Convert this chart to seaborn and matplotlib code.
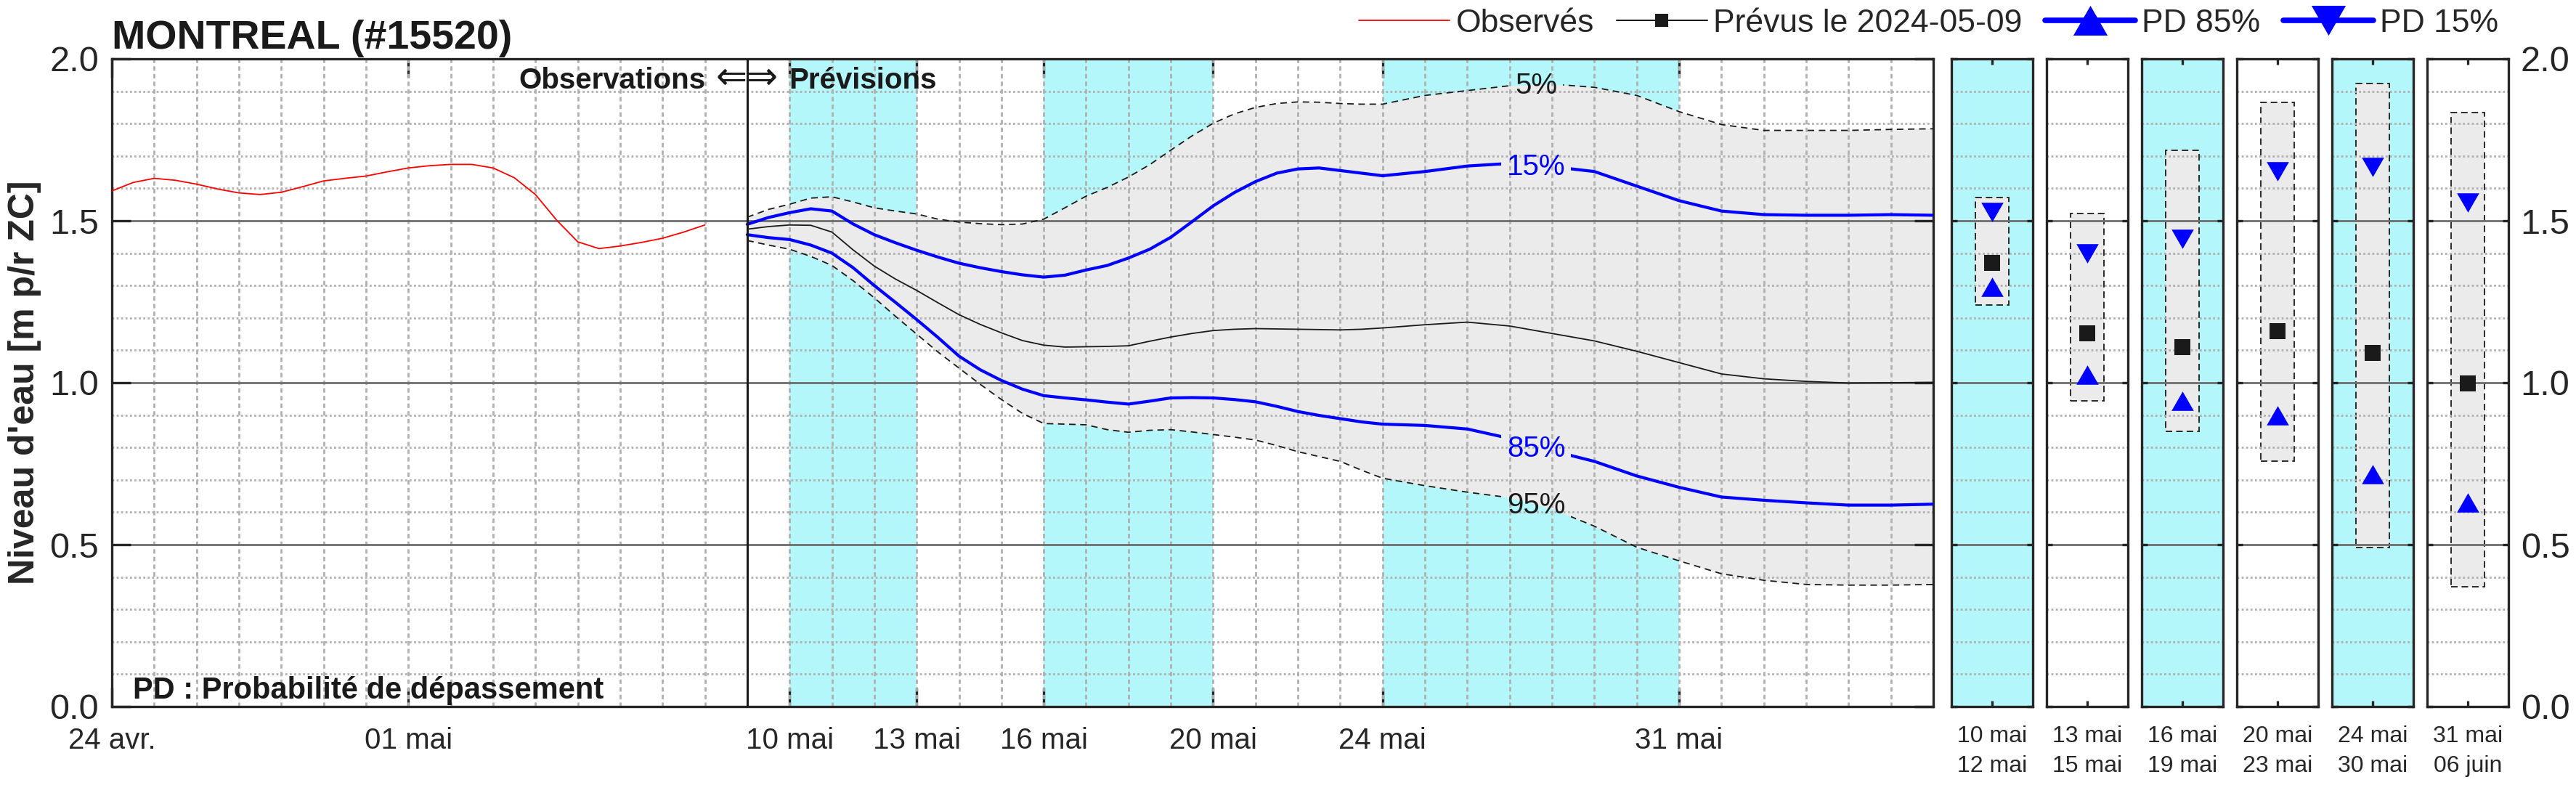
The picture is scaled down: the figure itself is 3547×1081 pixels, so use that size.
import numpy as np
import pandas as pd
import matplotlib
matplotlib.use("Agg")
import matplotlib.pyplot as plt
import matplotlib.dates as mdates
from matplotlib.ticker import MultipleLocator, FixedLocator
from matplotlib.lines import Line2D
from matplotlib.path import Path
from matplotlib.markers import MarkerStyle
from matplotlib.transforms import offset_copy
import seaborn as sns

# ---------------------------------------------------------------- data
station_title = "MONTREAL (#15520)"
forecast_issue = "2024-05-09"

# observed levels, every 12 h from 2024-04-24 00:00
obs_start = "2024-04-24 00:00"
obs_freq = "12h"
obs_levels = [1.592, 1.618, 1.631, 1.625, 1.613, 1.598, 1.586, 1.581, 1.588, 1.605,
              1.623, 1.631, 1.638, 1.651, 1.663, 1.670, 1.674, 1.674, 1.663, 1.633,
              1.581, 1.502, 1.435, 1.414, 1.422, 1.433, 1.446, 1.465, 1.487]

# forecast: 12-h steps from 05-09 to 05-24, then daily to 06-06
fc_halfday_range = ("2024-05-09", "2024-05-24")
fc_daily_range = ("2024-05-25", "2024-06-06")
pd05 = [1.511, 1.535, 1.551, 1.570, 1.574, 1.558, 1.540, 1.530, 1.521, 1.505,
        1.496, 1.491, 1.488, 1.490, 1.505, 1.540, 1.576, 1.603, 1.635, 1.673,
        1.718, 1.762, 1.801, 1.830, 1.850, 1.862, 1.867, 1.866, 1.862, 1.860, 1.860,
        1.887, 1.902, 1.917, 1.922, 1.912, 1.887, 1.837, 1.797, 1.779, 1.779, 1.779, 1.782, 1.784]
pd15 = [1.489, 1.510, 1.525, 1.537, 1.530, 1.490, 1.457, 1.432, 1.409, 1.388,
        1.369, 1.355, 1.343, 1.333, 1.326, 1.332, 1.348, 1.362, 1.385, 1.412,
        1.449, 1.497, 1.546, 1.587, 1.621, 1.647, 1.660, 1.663, 1.655, 1.647, 1.639,
        1.652, 1.669, 1.677, 1.667, 1.652, 1.607, 1.562, 1.530, 1.519, 1.517, 1.517, 1.519, 1.517]
prevu = [1.474, 1.482, 1.487, 1.486, 1.465, 1.410, 1.360, 1.320, 1.285, 1.247,
         1.210, 1.180, 1.154, 1.130, 1.116, 1.110, 1.111, 1.112, 1.114, 1.128,
         1.141, 1.152, 1.161, 1.165, 1.167, 1.166, 1.165, 1.164, 1.163, 1.165, 1.169,
         1.179, 1.187, 1.175, 1.152, 1.129, 1.097, 1.062, 1.027, 1.012, 1.004, 0.999, 1.000, 1.001]
pd85 = [1.457, 1.448, 1.442, 1.425, 1.400, 1.355, 1.300, 1.248, 1.195, 1.140,
        1.082, 1.040, 1.007, 0.980, 0.960, 0.953, 0.947, 0.940, 0.934, 0.943,
        0.953, 0.954, 0.953, 0.948, 0.941, 0.927, 0.911, 0.899, 0.889, 0.879, 0.872,
        0.868, 0.857, 0.828, 0.790, 0.757, 0.712, 0.677, 0.647, 0.637, 0.629, 0.622, 0.622, 0.625]
pd95 = [1.439, 1.425, 1.412, 1.390, 1.362, 1.315, 1.262, 1.205, 1.150, 1.095,
        1.045, 0.995, 0.948, 0.905, 0.874, 0.872, 0.870, 0.855, 0.847, 0.853,
        0.855, 0.848, 0.840, 0.832, 0.823, 0.806, 0.787, 0.772, 0.757, 0.730, 0.705,
        0.682, 0.662, 0.645, 0.610, 0.557, 0.492, 0.450, 0.410, 0.390, 0.377, 0.375, 0.375, 0.377]

x_start, x_end = "2024-04-24", "2024-06-06"
separator_date = "2024-05-09"
shaded_periods = [("2024-05-10", "2024-05-13"), ("2024-05-16", "2024-05-20"),
                  ("2024-05-24", "2024-05-31")]
xtick_dates = ["2024-04-24", "2024-05-01", "2024-05-10", "2024-05-13",
               "2024-05-16", "2024-05-20", "2024-05-24", "2024-05-31"]
xtick_labels = ["24 avr.", "01 mai", "10 mai", "13 mai", "16 mai", "20 mai", "24 mai", "31 mai"]
ytick_values = [0.0, 0.5, 1.0, 1.5, 2.0]
ytick_labels = ["0.0", "0.5", "1.0", "1.5", "2.0"]

curve_label_date = "2024-05-27 15:00"
curve_labels = ["5%", "15%", "85%", "95%"]
curve_label_levels = [1.917, 1.667, 0.797, 0.622]

period_labels = ["10 mai\n12 mai", "13 mai\n15 mai", "16 mai\n19 mai",
                 "20 mai\n23 mai", "24 mai\n30 mai", "31 mai\n06 juin"]
period_low = [1.239, 0.943, 0.850, 0.758, 0.490, 0.370]
period_high = [1.571, 1.523, 1.717, 1.865, 1.923, 1.834]
period_pd15 = [1.527, 1.400, 1.445, 1.653, 1.667, 1.555]
period_prevu = [1.371, 1.153, 1.110, 1.160, 1.091, 0.998]
period_pd85 = [1.295, 1.025, 0.944, 0.899, 0.717, 0.629]

# ---------------------------------------------------------------- style
sns.set_theme(style="white")
plt.rcParams["font.family"] = ["Liberation Sans", "DejaVu Sans"]
plt.rcParams["axes.unicode_minus"] = False

CYAN = "#b3f7fa"
FILL = "#ebebeb"
BLUE = "#0000ff"
RED = "#ff0000"
GRID = "#b0b0b0"
MAJ = "#6e6e6e"
DARK = "#262626"

W, H, DPI = 3547, 1081, 100
fig = plt.figure(figsize=(W / DPI, H / DPI), dpi=DPI)
fig.patch.set_facecolor("white")


def fx(px):
    return px / W


def fy(px):
    return 1 - px / H


AX_TOP, AX_BOT = 81, 973
MAIN_L, MAIN_R = 154, 2662

up_tri = MarkerStyle([(-1, -0.87), (1, -0.87), (0, 0.87), (-1, -0.87)])
down_tri = MarkerStyle([(-1, 0.87), (1, 0.87), (0, -0.87), (-1, 0.87)])


def style_axes(a):
    a.set_axisbelow("line")
    for s in a.spines.values():
        s.set_visible(True)
        s.set_linewidth(2.4)
        s.set_color(DARK)
    a.set_ylim(0, 2)
    a.yaxis.set_major_locator(FixedLocator(ytick_values))
    a.yaxis.set_minor_locator(MultipleLocator(0.1))
    a.grid(True, axis="y", which="major", color=MAJ, lw=2.0, ls="-")
    a.grid(True, axis="y", which="minor", color=GRID, lw=2.0, ls=(0, (1, 1.2)))


# ---------------------------------------------------------------- main axes
ax = fig.add_axes([fx(MAIN_L), fy(AX_BOT), fx(MAIN_R - MAIN_L), (AX_BOT - AX_TOP) / H])
style_axes(ax)

obs_dates = pd.date_range(obs_start, periods=len(obs_levels), freq=obs_freq)
fc_dates = pd.date_range(*fc_halfday_range, freq="12h").append(
    pd.date_range(*fc_daily_range, freq="D"))

for a_, b_ in shaded_periods:
    ax.axvspan(pd.Timestamp(a_), pd.Timestamp(b_), color=CYAN, lw=0, zorder=0.3)

ax.fill_between(fc_dates, pd95, pd05, color=FILL, lw=0, zorder=0.8)

sns.lineplot(x=obs_dates, y=obs_levels, ax=ax, color=RED, lw=1.3, legend=False,
             errorbar=None, zorder=3)
sns.lineplot(x=fc_dates, y=pd05, ax=ax, color="k", lw=1.3, ls=(0, (5, 3.5)),
             legend=False, errorbar=None, zorder=3)
line05 = ax.lines[-1]
sns.lineplot(x=fc_dates, y=pd95, ax=ax, color="k", lw=1.3, ls=(0, (5, 3.5)),
             legend=False, errorbar=None, zorder=3)
line95 = ax.lines[-1]
sns.lineplot(x=fc_dates, y=prevu, ax=ax, color="k", lw=1.3, legend=False,
             errorbar=None, zorder=3)
sns.lineplot(x=fc_dates, y=pd15, ax=ax, color=BLUE, lw=3.0, legend=False,
             errorbar=None, zorder=3.2)
line15 = ax.lines[-1]
sns.lineplot(x=fc_dates, y=pd85, ax=ax, color=BLUE, lw=3.0, legend=False,
             errorbar=None, zorder=3.2)
line85 = ax.lines[-1]

ax.axvline(pd.Timestamp(separator_date), color="k", lw=2.2, zorder=3.5)

ax.set_xlim(pd.Timestamp(x_start), pd.Timestamp(x_end))
ax.set_ylim(0, 2)
ax.set_xlabel("")
ax.set_ylabel("")

ax.xaxis.set_major_locator(FixedLocator(mdates.date2num(pd.to_datetime(xtick_dates))))
ax.set_xticklabels(xtick_labels)
ax.xaxis.set_minor_locator(mdates.DayLocator())
ax.xaxis.remove_overlapping_locs = False
ax.grid(False, axis="x", which="major")
ax.grid(True, axis="x", which="minor", color=GRID, lw=2.0, ls=(0, (2.2, 1.6)))
ax.set_yticklabels(ytick_labels)

ax.tick_params(axis="both", which="major", direction="in", length=19, width=2.4,
               color=DARK, top=True, right=True, bottom=True, left=True,
               labelcolor=DARK)
ax.tick_params(axis="x", which="major", labelsize=29, pad=20)
ax.tick_params(axis="y", which="major", labelsize=35, pad=13)
ax.tick_params(which="minor", length=0)

# curve labels
label_texts = []
label_colors = ["k", BLUE, BLUE, "k"]
for lab, lev, col in zip(curve_labels, curve_label_levels, label_colors):
    t = ax.text(pd.Timestamp(curve_label_date), lev, lab, ha="center", va="center",
                fontsize=29, color=col, zorder=4)
    label_texts.append(t)

# observations / forecast text
sep_num = mdates.date2num(pd.Timestamp(separator_date))
txt_y = 1.908
ax.text(sep_num, txt_y, "Observations",
        transform=offset_copy(ax.transData, fig=fig, x=-57, y=0, units="dots"),
        ha="right", va="baseline", fontsize=29, fontweight="bold", color="k", zorder=5)
ax.text(sep_num, txt_y, "\u21d0\u21d2",
        transform=offset_copy(ax.transData, fig=fig, x=0, y=0, units="dots"),
        ha="center", va="baseline", fontsize=37, family=["DejaVu Sans"], color="k", zorder=5)
ax.text(sep_num, txt_y, "Prévisions",
        transform=offset_copy(ax.transData, fig=fig, x=57, y=0, units="dots"),
        ha="left", va="baseline", fontsize=29, fontweight="bold", color="k", zorder=5)

ax.text(0.0116, 0.0125, "PD : Probabilité de dépassement", transform=ax.transAxes,
        ha="left", va="baseline", fontsize=30, fontweight="bold", color="k", zorder=5)

# ---------------------------------------------------------------- period panels
panel_left_px = [2687, 2818, 2949, 3080, 3211, 3342]
panel_w_px = 112
for i, lab in enumerate(period_labels):
    pax = fig.add_axes([fx(panel_left_px[i]), fy(AX_BOT), fx(panel_w_px),
                        (AX_BOT - AX_TOP) / H])
    style_axes(pax)
    pax.set_facecolor(CYAN if i % 2 == 0 else "white")
    pax.bar(0, period_high[i] - period_low[i], bottom=period_low[i], width=0.81,
            color=FILL, edgecolor="k", lw=1.3, ls=(0, (5, 3)), zorder=1)
    sns.scatterplot(x=[0], y=[period_pd15[i]], ax=pax, marker=down_tri, s=484,
                    color=BLUE, linewidth=0, legend=False, zorder=4)
    sns.scatterplot(x=[0], y=[period_prevu[i]], ax=pax, marker="s", s=256,
                    color="k", linewidth=0, legend=False, zorder=4)
    sns.scatterplot(x=[0], y=[period_pd85[i]], ax=pax, marker=up_tri, s=484,
                    color=BLUE, linewidth=0, legend=False, zorder=4)
    pax.set_xlim(-1, 1)
    pax.set_ylim(0, 2)
    pax.set_xlabel("")
    pax.set_ylabel("")
    pax.set_xticks([0])
    pax.set_xticklabels([lab], linespacing=1.45)
    pax.grid(False, axis="x", which="both")
    pax.set_yticklabels(ytick_labels)
    pax.tick_params(axis="both", which="major", direction="in", length=6, width=2.4,
                    color=DARK, top=True, right=True, bottom=True, left=True,
                    labelcolor=DARK, labelleft=False)
    pax.tick_params(axis="x", labelsize=23, pad=19)
    pax.tick_params(which="minor", length=0)
    if i == len(period_labels) - 1:
        pax.tick_params(axis="y", labelright=True, labelsize=35, pad=12)

# ---------------------------------------------------------------- title, labels, legend
fig.text(fx(154), fy(67), station_title, fontsize=40, fontweight="bold",
         ha="left", va="baseline", color="k")
fig.text(fx(34), fy((AX_TOP + AX_BOT) / 2), "Niveau d'eau [m p/r ZC]", rotation=90,
         fontsize=36, fontweight="bold", ha="center", va="center", color=DARK)

handles = [
    Line2D([], [], color=RED, lw=1.3),
    Line2D([], [], color="k", lw=1.5, marker="s", ms=13, mfc="k", mec="k", mew=0),
    Line2D([], [], color=BLUE, lw=5.5, marker=up_tri, ms=34, mfc=BLUE, mec=BLUE, mew=0),
    Line2D([], [], color=BLUE, lw=5.5, marker=down_tri, ms=34, mfc=BLUE, mec=BLUE, mew=0),
]
labels = ["Observés", f"Prévus le {forecast_issue}", "PD 85%", "PD 15%"]
fig.legend(handles, labels, loc="center right", bbox_to_anchor=(fx(3440), fy(32)),
           ncol=4, frameon=False, fontsize=32, handlelength=2.8, handletextpad=0.2,
           columnspacing=0.7, borderpad=0, borderaxespad=0)

# ---------------------------------------------------------------- gaps under curve labels
fig.canvas.draw()
renderer = fig.canvas.get_renderer()
inv = ax.transData.inverted()
x0, x1 = ax.get_xlim()
y0, y1 = ax.get_ylim()
for line, t in zip([line05, line15, line85, line95], label_texts):
    bb = t.get_window_extent(renderer)
    (a_, c_), (b_, d_) = inv.transform([[bb.x0 - 8, bb.y0 - 2], [bb.x1 + 8, bb.y1 + 2]])
    verts = [(x0, y0), (x1, y0), (x1, y1), (x0, y1), (x0, y0),
             (a_, c_), (a_, d_), (b_, d_), (b_, c_), (a_, c_)]
    codes = [Path.MOVETO, Path.LINETO, Path.LINETO, Path.LINETO, Path.CLOSEPOLY,
             Path.MOVETO, Path.LINETO, Path.LINETO, Path.LINETO, Path.CLOSEPOLY]
    line.set_clip_path(Path(verts, codes), ax.transData)

fig.savefig("out.png", dpi=DPI, facecolor="white")
